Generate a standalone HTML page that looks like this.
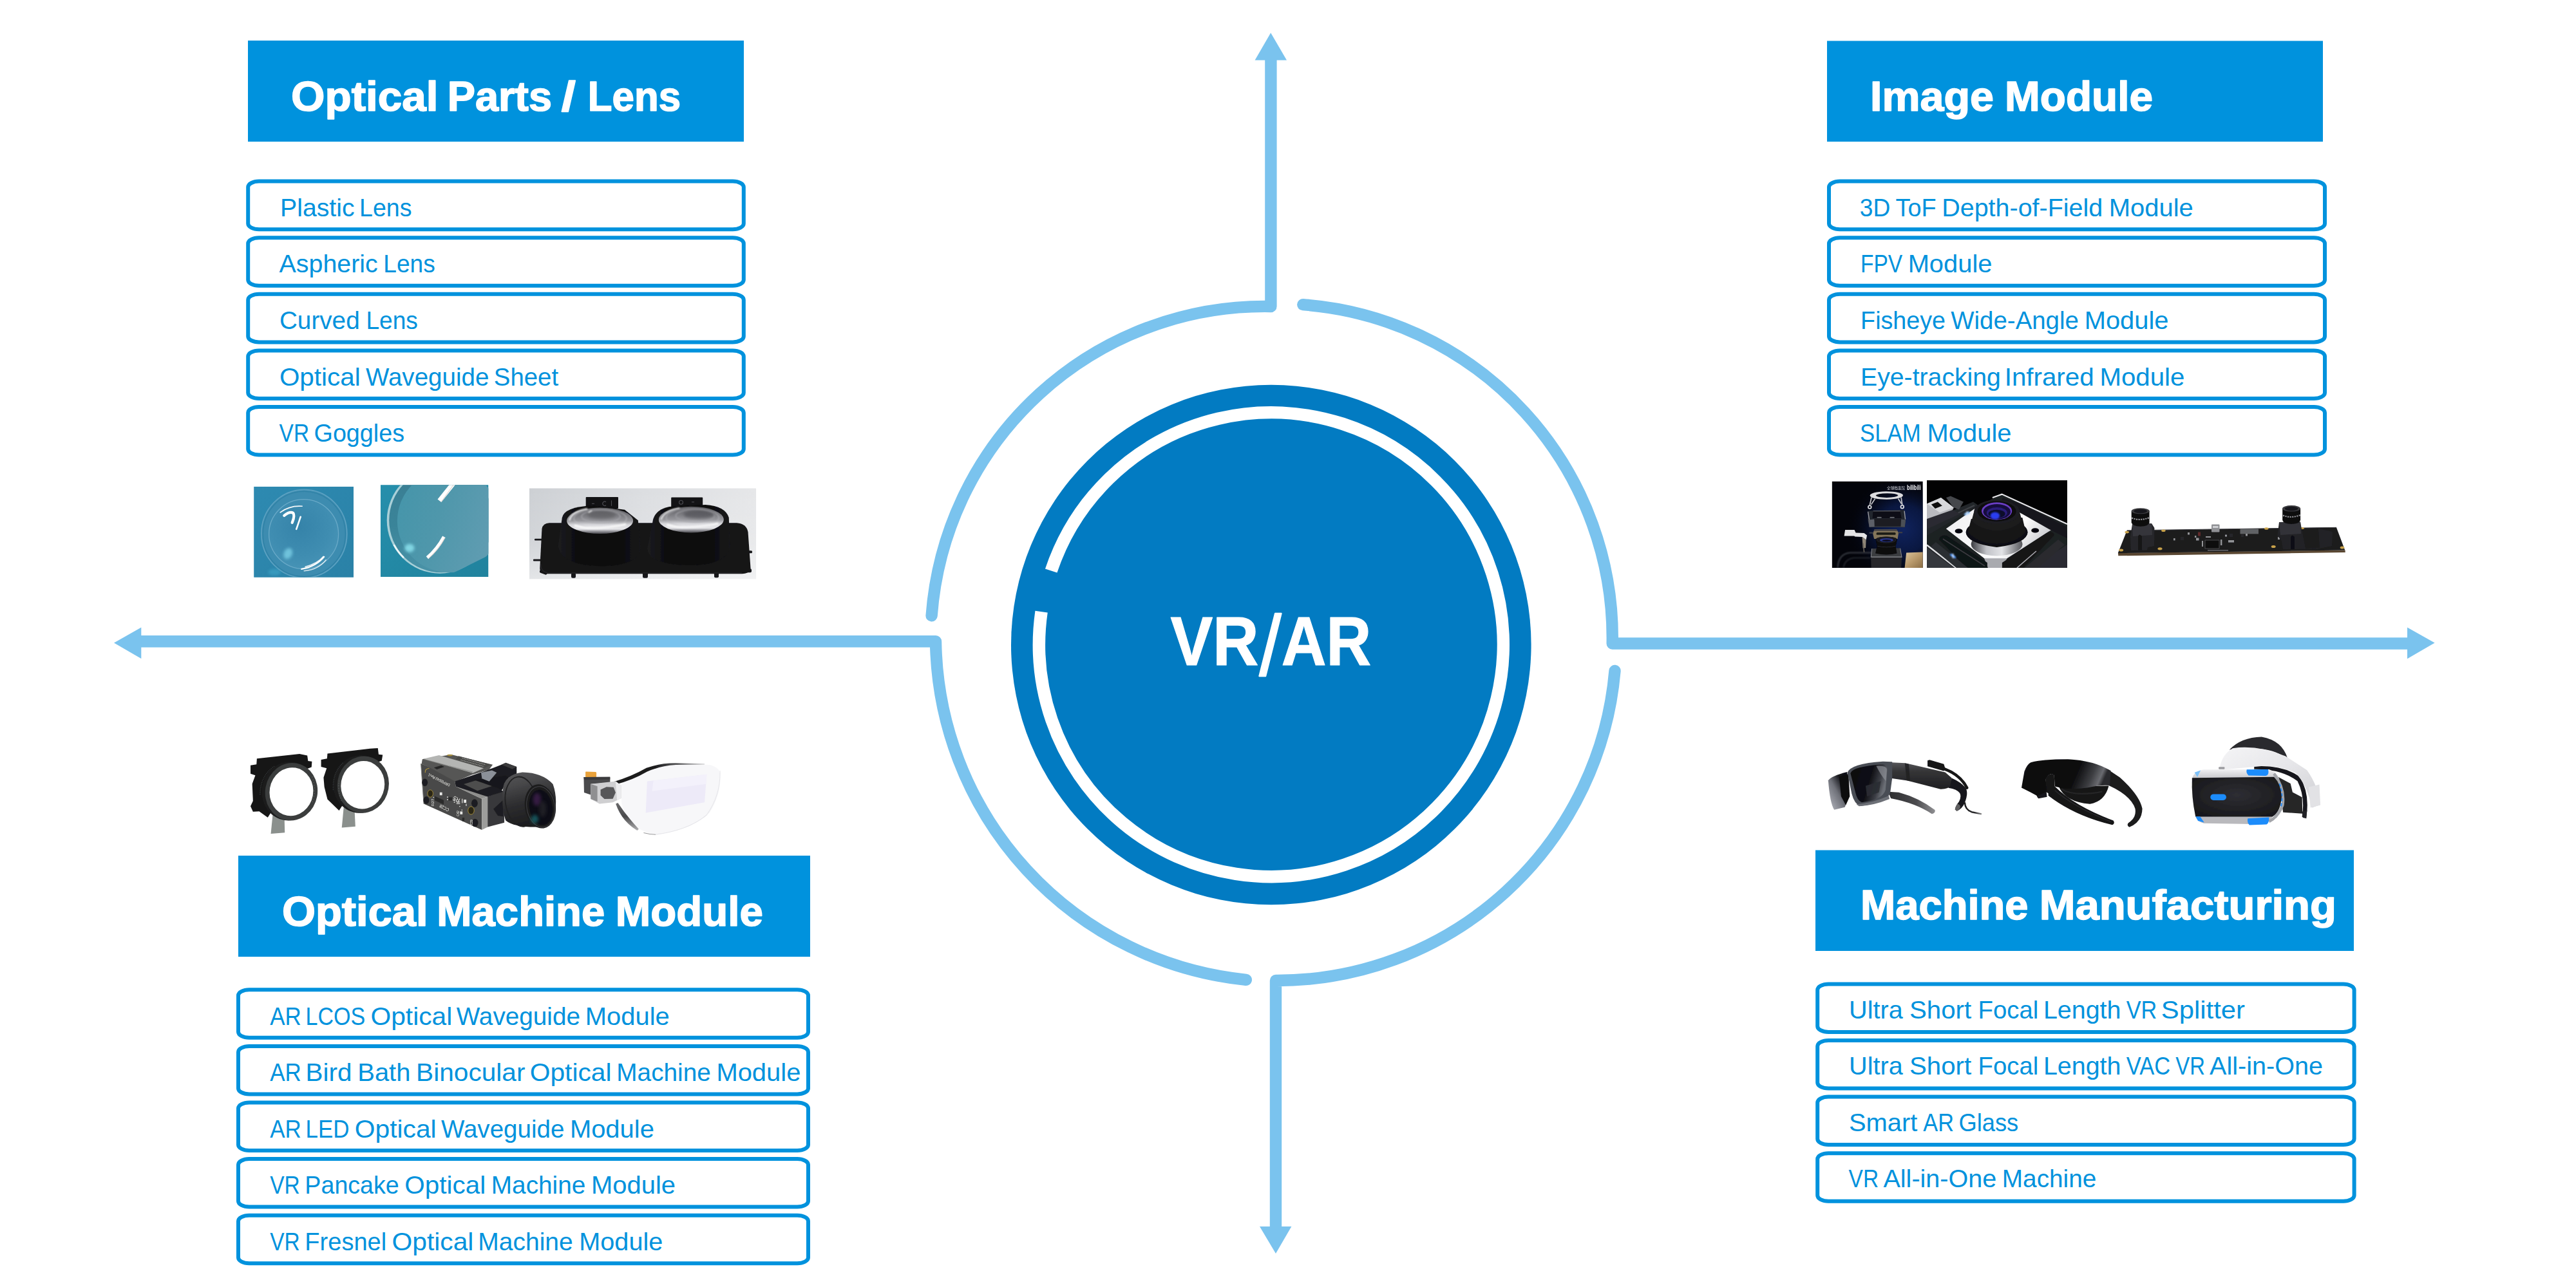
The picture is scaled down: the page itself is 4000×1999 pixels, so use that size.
<!DOCTYPE html>
<html lang="en">
<head>
<meta charset="utf-8">
<title>VR/AR</title>
<style>
html,body{margin:0;padding:0;background:#fff;}
body{width:4000px;height:1999px;overflow:hidden;}
svg{display:block;}
svg text{font-family:"Liberation Sans", "Noto Sans CJK SC", sans-serif;}
</style>
</head>
<body>
<svg width="4000" height="1999" viewBox="0 0 4000 1999">
<defs>
<filter id="b1" x="-20%" y="-20%" width="140%" height="140%"><feGaussianBlur stdDeviation="1"/></filter>
<filter id="b06" x="-20%" y="-20%" width="140%" height="140%"><feGaussianBlur stdDeviation="0.6"/></filter>
<filter id="b2" x="-30%" y="-30%" width="160%" height="160%"><feGaussianBlur stdDeviation="2"/></filter>
<filter id="b4" x="-40%" y="-40%" width="180%" height="180%"><feGaussianBlur stdDeviation="4"/></filter>
<filter id="b8" x="-50%" y="-50%" width="200%" height="200%"><feGaussianBlur stdDeviation="8"/></filter>
<filter id="b25" x="-50%" y="-50%" width="200%" height="200%"><feGaussianBlur stdDeviation="25"/></filter>
<linearGradient id="g01bg" x1="0" y1="0" x2="1" y2="1"><stop offset="0" stop-color="#2f8db5" stop-opacity=".6"/><stop offset="1" stop-color="#2a7fa4" stop-opacity=".6"/></linearGradient>
<radialGradient id="g01in" cx=".45" cy=".4" r=".7"><stop offset="0" stop-color="#3583a9"/><stop offset=".6" stop-color="#3f8db1"/><stop offset="1" stop-color="#4a96b8"/></radialGradient>
<linearGradient id="g02bg" x1="0" y1="0" x2="1" y2="1"><stop offset="0" stop-color="#2690ad" stop-opacity=".7"/><stop offset="1" stop-color="#1f7f99" stop-opacity=".7"/></linearGradient>
<linearGradient id="g02in" x1="0" y1="0" x2="1" y2=".3"><stop offset="0" stop-color="#4495aa"/><stop offset=".5" stop-color="#4f97ab"/><stop offset="1" stop-color="#5f9cb1"/></linearGradient>
<linearGradient id="g02cr" x1="0" y1="0" x2="0" y2="1"><stop offset="0" stop-color="#3a7d92"/><stop offset=".55" stop-color="#3a8499"/><stop offset="1" stop-color="#4a93a8"/></linearGradient>
<linearGradient id="g03bg" x1="0" y1="0" x2="1" y2="0"><stop offset="0" stop-color="#cdd0d4"/><stop offset=".5" stop-color="#dcdee1"/><stop offset="1" stop-color="#e6e7e9"/></linearGradient>
<linearGradient id="g03bg2" x1="0" y1="0" x2="0" y2="1"><stop offset="0" stop-color="#fff" stop-opacity="0"/><stop offset=".6" stop-color="#fff" stop-opacity=".12"/><stop offset="1" stop-color="#fff" stop-opacity=".45"/></linearGradient>
<linearGradient id="g03cyl" x1="0" y1="0" x2="1" y2="0"><stop offset="0" stop-color="#1c1c20"/><stop offset=".25" stop-color="#0c0c0e"/><stop offset=".7" stop-color="#0a0a0c"/><stop offset="1" stop-color="#17171a"/></linearGradient>
<radialGradient id="g03lens" cx=".5" cy=".45" r=".6"><stop offset="0" stop-color="#7a7a80"/><stop offset=".55" stop-color="#9a9aa0"/><stop offset=".85" stop-color="#d6d6da"/><stop offset="1" stop-color="#8c8c92"/></radialGradient>
<radialGradient id="g04glow" cx=".78" cy=".55" r=".62"><stop offset="0" stop-color="#10235e"/><stop offset=".45" stop-color="#0a1843" stop-opacity=".95"/><stop offset="1" stop-color="#03040a" stop-opacity="0"/></radialGradient>
<linearGradient id="g04tan" x1="0" y1="0" x2="1" y2="1"><stop offset="0" stop-color="#d9c39c"/><stop offset=".5" stop-color="#b99a6c"/><stop offset="1" stop-color="#8a6d45"/></linearGradient>
<linearGradient id="g05plate" x1="0" y1="0" x2="1" y2=".4"><stop offset="0" stop-color="#c9cace"/><stop offset=".2" stop-color="#f2f2f4"/><stop offset=".75" stop-color="#fdfdfd"/><stop offset="1" stop-color="#d0d1d5"/></linearGradient>
<linearGradient id="g05cone" x1="0" y1="0" x2="1" y2="0"><stop offset="0" stop-color="#3a3b40"/><stop offset=".3" stop-color="#c2c3c8"/><stop offset=".6" stop-color="#e2e3e6"/><stop offset="1" stop-color="#55565b"/></linearGradient>
<linearGradient id="g08barrel" x1="0" y1="0" x2=".25" y2="1"><stop offset="0" stop-color="#58585a"/><stop offset=".25" stop-color="#4a4a4c"/><stop offset=".6" stop-color="#2e2e30"/><stop offset="1" stop-color="#1d1d1f"/></linearGradient>
<linearGradient id="g09top" x1="0" y1="0" x2="1" y2="0"><stop offset="0" stop-color="#1c1c1e"/><stop offset=".45" stop-color="#1c1c1e"/><stop offset=".7" stop-color="#58585a"/><stop offset="1" stop-color="#d0d0d2"/></linearGradient>
<linearGradient id="g09low" x1="0" y1="0" x2="0" y2="1"><stop offset="0" stop-color="#6a6a6c"/><stop offset=".5" stop-color="#4a4a4c"/><stop offset="1" stop-color="#b0b0b2"/></linearGradient>
<linearGradient id="g10arm" x1="0" y1="0" x2="0" y2="1"><stop offset="0" stop-color="#57575a"/><stop offset=".35" stop-color="#343436"/><stop offset="1" stop-color="#1f1f21"/></linearGradient>
<linearGradient id="g10arm2" x1="0" y1="0" x2="1" y2="0"><stop offset="0" stop-color="#2c2c2e"/><stop offset=".6" stop-color="#4c4c4f"/><stop offset="1" stop-color="#909093"/></linearGradient>
<linearGradient id="g10lensL" x1="0" y1="1" x2="1" y2="0"><stop offset="0" stop-color="#b9bbc3"/><stop offset=".45" stop-color="#6e7078"/><stop offset=".7" stop-color="#15151a"/><stop offset="1" stop-color="#0c0c10"/></linearGradient>
<linearGradient id="g10lensR" x1="0" y1="0" x2="1" y2=".3"><stop offset="0" stop-color="#0a0a0d"/><stop offset=".6" stop-color="#111116"/><stop offset=".85" stop-color="#3c3e45"/><stop offset="1" stop-color="#6b6e75"/></linearGradient>
<linearGradient id="g11visor" x1="0" y1="0" x2="1" y2=".15"><stop offset="0" stop-color="#2a2a2d"/><stop offset=".12" stop-color="#0d0d0f"/><stop offset=".65" stop-color="#08080a"/><stop offset=".85" stop-color="#3d3e42"/><stop offset=".95" stop-color="#6a6b70"/><stop offset="1" stop-color="#2a2a2d"/></linearGradient>
<linearGradient id="g12band" x1="0" y1="0" x2="1" y2="1"><stop offset="0" stop-color="#f4f4f6"/><stop offset=".5" stop-color="#e6e6e9"/><stop offset="1" stop-color="#cfcfd3"/></linearGradient>
<linearGradient id="g12top" x1="0" y1="0" x2="0" y2="1"><stop offset="0" stop-color="#f0f0f2"/><stop offset="1" stop-color="#c4c4c8"/></linearGradient>
<radialGradient id="g12front" cx=".5" cy=".45" r=".6"><stop offset="0" stop-color="#2e2e33"/><stop offset="1" stop-color="#19191c"/></radialGradient>
<linearGradient id="g10tail" x1="0" y1="0" x2="1" y2="0"><stop offset="0" stop-color="#1c1c1e"/><stop offset=".6" stop-color="#2c2c2e"/><stop offset="1" stop-color="#8a8a8c"/></linearGradient>
<linearGradient id="g03lensV" x1="0" y1="0" x2="0" y2="1"><stop offset="0" stop-color="#4c4c50"/><stop offset=".2" stop-color="#6e6e73"/><stop offset=".5" stop-color="#97979c"/><stop offset=".66" stop-color="#d9d9dd"/><stop offset=".82" stop-color="#e6e6e9"/><stop offset=".92" stop-color="#8a8a90"/><stop offset="1" stop-color="#4a4a4f"/></linearGradient>

</defs>
<path d="M1973.4 92 L1973.4 476.0 A519 519 0 0 0 1446.6 956.3" fill="none" stroke="#7AC3EE" stroke-width="18.4" stroke-linejoin="round" stroke-linecap="round"/>
<path d="M3739 999.5 L2503.7 999.5 A519 519 0 0 0 2023.3 473.2" fill="none" stroke="#7AC3EE" stroke-width="18.4" stroke-linejoin="round" stroke-linecap="round"/>
<path d="M1981 1906 L1981 1523 A526.5 526.5 0 0 0 2507.5 1042" fill="none" stroke="#7AC3EE" stroke-width="18.4" stroke-linejoin="round" stroke-linecap="round"/>
<path d="M218 996.2 L1453 996.2 A536 536 0 0 0 1934.8 1521.8" fill="none" stroke="#7AC3EE" stroke-width="18.4" stroke-linejoin="round" stroke-linecap="round"/>
<path d="M1973.2 51 L1998 93.5 L1948.6 93.5 Z" fill="#7AC3EE"/>
<path d="M1981 1947 L1956 1905 L2005.4 1905 Z" fill="#7AC3EE"/>
<path d="M177 998.6 L219.3 974.4 L219.3 1023 Z" fill="#7AC3EE"/>
<path d="M3780.6 998.6 L3738 974.4 L3738 1023.2 Z" fill="#7AC3EE"/>
<circle cx="1973.8" cy="1001.5" r="403.8" fill="#027BC2"/>
<path d="M1632.2 886.5 A360.4 360.4 0 1 1 1617.1 950.1" fill="none" stroke="#fff" stroke-width="19.5"/>
<text font-size="108" font-weight="bold" fill="#fff" stroke="#fff" stroke-width="1.2" stroke-linejoin="round"><tspan x="1817.5" y="1033" textLength="137" lengthAdjust="spacingAndGlyphs">VR</tspan><tspan x="1955.6" y="1048.5" font-size="132" font-weight="normal" stroke-width="2.4" textLength="34" lengthAdjust="spacingAndGlyphs">/</tspan><tspan x="1989.7" y="1033" textLength="139.5" lengthAdjust="spacingAndGlyphs">AR</tspan></text>
<rect x="385" y="63" width="770" height="157" fill="#0092DD"/>
<rect x="2837" y="63.5" width="770" height="156.5" fill="#0092DD"/>
<rect x="370" y="1329" width="888" height="157" fill="#0092DD"/>
<rect x="2819" y="1320.5" width="836" height="156.5" fill="#0092DD"/>
<text y="172" font-size="64.5" font-weight="bold" fill="#fff" stroke="#fff" stroke-width="1.6" stroke-linejoin="round"><tspan x="452.0" textLength="228.55" lengthAdjust="spacingAndGlyphs">Optical</tspan> <tspan x="694.68" textLength="162.32" lengthAdjust="spacingAndGlyphs">Parts</tspan> <tspan x="871.87" textLength="22.15" lengthAdjust="spacingAndGlyphs">/</tspan> <tspan x="912.86" textLength="144.24" lengthAdjust="spacingAndGlyphs">Lens</tspan></text>
<text y="171.5" font-size="64.5" font-weight="bold" fill="#fff" stroke="#fff" stroke-width="1.6" stroke-linejoin="round"><tspan x="2904.1" textLength="191.88" lengthAdjust="spacingAndGlyphs">Image</tspan> <tspan x="3113.04" textLength="229.96" lengthAdjust="spacingAndGlyphs">Module</tspan></text>
<text y="1437.5" font-size="64.5" font-weight="bold" fill="#fff" stroke="#fff" stroke-width="1.6" stroke-linejoin="round"><tspan x="437.9" textLength="226.69" lengthAdjust="spacingAndGlyphs">Optical</tspan> <tspan x="678.3" textLength="260.87" lengthAdjust="spacingAndGlyphs">Machine</tspan> <tspan x="955.69" textLength="229.11" lengthAdjust="spacingAndGlyphs">Module</tspan></text>
<text y="1427.5" font-size="64.5" font-weight="bold" fill="#fff" stroke="#fff" stroke-width="1.6" stroke-linejoin="round"><tspan x="2889.0" textLength="260.59" lengthAdjust="spacingAndGlyphs">Machine</tspan> <tspan x="3166.65" textLength="461.25" lengthAdjust="spacingAndGlyphs">Manufacturing</tspan></text>
<rect x="385.20" y="281.60" width="769.60" height="74.60" rx="17.0" ry="9.0" fill="#fff" stroke="#0092DD" stroke-width="6"/>
<text y="335.8" font-size="39.5" font-weight="normal" fill="#0092DD"><tspan x="435.01" textLength="115.53" lengthAdjust="spacingAndGlyphs">Plastic</tspan> <tspan x="558.08" textLength="81.43" lengthAdjust="spacingAndGlyphs">Lens</tspan></text>
<rect x="385.20" y="369.20" width="769.60" height="74.60" rx="17.0" ry="9.0" fill="#fff" stroke="#0092DD" stroke-width="6"/>
<text y="423.40000000000003" font-size="39.5" font-weight="normal" fill="#0092DD"><tspan x="433.6" textLength="153.15" lengthAdjust="spacingAndGlyphs">Aspheric</tspan> <tspan x="595.29" textLength="80.43" lengthAdjust="spacingAndGlyphs">Lens</tspan></text>
<rect x="385.20" y="456.80" width="769.60" height="74.60" rx="17.0" ry="9.0" fill="#fff" stroke="#0092DD" stroke-width="6"/>
<text y="511.0" font-size="39.5" font-weight="normal" fill="#0092DD"><tspan x="433.91" textLength="124.76" lengthAdjust="spacingAndGlyphs">Curved</tspan> <tspan x="568.41" textLength="80.43" lengthAdjust="spacingAndGlyphs">Lens</tspan></text>
<rect x="385.20" y="544.40" width="769.60" height="74.60" rx="17.0" ry="9.0" fill="#fff" stroke="#0092DD" stroke-width="6"/>
<text y="598.6" font-size="39.5" font-weight="normal" fill="#0092DD"><tspan x="433.91" textLength="125.86" lengthAdjust="spacingAndGlyphs">Optical</tspan> <tspan x="568.0" textLength="191.37" lengthAdjust="spacingAndGlyphs">Waveguide</tspan> <tspan x="766.8" textLength="100.29" lengthAdjust="spacingAndGlyphs">Sheet</tspan></text>
<rect x="385.20" y="632.00" width="769.60" height="74.60" rx="17.0" ry="9.0" fill="#fff" stroke="#0092DD" stroke-width="6"/>
<text y="686.2" font-size="39.5" font-weight="normal" fill="#0092DD"><tspan x="433.6" textLength="46.53" lengthAdjust="spacingAndGlyphs">VR</tspan> <tspan x="487.56" textLength="140.51" lengthAdjust="spacingAndGlyphs">Goggles</tspan></text>
<rect x="2840.00" y="281.60" width="770.00" height="74.60" rx="17.0" ry="9.0" fill="#fff" stroke="#0092DD" stroke-width="6"/>
<text y="335.8" font-size="39.5" font-weight="normal" fill="#0092DD"><tspan x="2887.8" textLength="47.43" lengthAdjust="spacingAndGlyphs">3D</tspan> <tspan x="2943.57" textLength="63.08" lengthAdjust="spacingAndGlyphs">ToF</tspan> <tspan x="3015.29" textLength="249.83" lengthAdjust="spacingAndGlyphs">Depth-of-Field</tspan> <tspan x="3274.87" textLength="130.98" lengthAdjust="spacingAndGlyphs">Module</tspan></text>
<rect x="2840.00" y="369.20" width="770.00" height="74.60" rx="17.0" ry="9.0" fill="#fff" stroke="#0092DD" stroke-width="6"/>
<text y="423.40000000000003" font-size="39.5" font-weight="normal" fill="#0092DD"><tspan x="2889.11" textLength="65.09" lengthAdjust="spacingAndGlyphs">FPV</tspan> <tspan x="2962.63" textLength="130.88" lengthAdjust="spacingAndGlyphs">Module</tspan></text>
<rect x="2840.00" y="456.80" width="770.00" height="74.60" rx="17.0" ry="9.0" fill="#fff" stroke="#0092DD" stroke-width="6"/>
<text y="511.0" font-size="39.5" font-weight="normal" fill="#0092DD"><tspan x="2889.11" textLength="131.98" lengthAdjust="spacingAndGlyphs">Fisheye</tspan> <tspan x="3029.32" textLength="198.59" lengthAdjust="spacingAndGlyphs">Wide-Angle</tspan> <tspan x="3236.65" textLength="130.88" lengthAdjust="spacingAndGlyphs">Module</tspan></text>
<rect x="2840.00" y="544.40" width="770.00" height="74.60" rx="17.0" ry="9.0" fill="#fff" stroke="#0092DD" stroke-width="6"/>
<text y="598.6" font-size="39.5" font-weight="normal" fill="#0092DD"><tspan x="2889.11" textLength="217.74" lengthAdjust="spacingAndGlyphs">Eye-tracking</tspan> <tspan x="3112.68" textLength="139.0" lengthAdjust="spacingAndGlyphs">Infrared</tspan> <tspan x="3260.43" textLength="131.88" lengthAdjust="spacingAndGlyphs">Module</tspan></text>
<rect x="2840.00" y="632.00" width="770.00" height="74.60" rx="17.0" ry="9.0" fill="#fff" stroke="#0092DD" stroke-width="6"/>
<text y="686.2" font-size="39.5" font-weight="normal" fill="#0092DD"><tspan x="2888.01" textLength="94.77" lengthAdjust="spacingAndGlyphs">SLAM</tspan> <tspan x="2992.62" textLength="130.88" lengthAdjust="spacingAndGlyphs">Module</tspan></text>
<rect x="370.00" y="1537.30" width="885.00" height="74.50" rx="17.0" ry="9.0" fill="#fff" stroke="#0092DD" stroke-width="6"/>
<text y="1591.5" font-size="39.5" font-weight="normal" fill="#0092DD"><tspan x="419.2" textLength="48.54" lengthAdjust="spacingAndGlyphs">AR</tspan> <tspan x="474.47" textLength="92.76" lengthAdjust="spacingAndGlyphs">LCOS</tspan> <tspan x="575.47" textLength="126.87" lengthAdjust="spacingAndGlyphs">Optical</tspan> <tspan x="708.77" textLength="192.27" lengthAdjust="spacingAndGlyphs">Waveguide</tspan> <tspan x="908.77" textLength="130.98" lengthAdjust="spacingAndGlyphs">Module</tspan></text>
<rect x="370.00" y="1624.90" width="885.00" height="74.50" rx="17.0" ry="9.0" fill="#fff" stroke="#0092DD" stroke-width="6"/>
<text y="1679.1" font-size="39.5" font-weight="normal" fill="#0092DD"><tspan x="419.2" textLength="48.54" lengthAdjust="spacingAndGlyphs">AR</tspan> <tspan x="474.47" textLength="71.9" lengthAdjust="spacingAndGlyphs">Bird</tspan> <tspan x="555.22" textLength="82.23" lengthAdjust="spacingAndGlyphs">Bath</tspan> <tspan x="646.09" textLength="169.4" lengthAdjust="spacingAndGlyphs">Binocular</tspan> <tspan x="822.71" textLength="126.87" lengthAdjust="spacingAndGlyphs">Optical</tspan> <tspan x="957.32" textLength="146.53" lengthAdjust="spacingAndGlyphs">Machine</tspan> <tspan x="1112.38" textLength="130.98" lengthAdjust="spacingAndGlyphs">Module</tspan></text>
<rect x="370.00" y="1712.50" width="885.00" height="74.50" rx="17.0" ry="9.0" fill="#fff" stroke="#0092DD" stroke-width="6"/>
<text y="1766.7" font-size="39.5" font-weight="normal" fill="#0092DD"><tspan x="419.2" textLength="48.54" lengthAdjust="spacingAndGlyphs">AR</tspan> <tspan x="474.47" textLength="67.89" lengthAdjust="spacingAndGlyphs">LED</tspan> <tspan x="550.8" textLength="126.87" lengthAdjust="spacingAndGlyphs">Optical</tspan> <tspan x="685.0" textLength="191.37" lengthAdjust="spacingAndGlyphs">Waveguide</tspan> <tspan x="884.9" textLength="130.98" lengthAdjust="spacingAndGlyphs">Module</tspan></text>
<rect x="370.00" y="1800.10" width="885.00" height="74.50" rx="17.0" ry="9.0" fill="#fff" stroke="#0092DD" stroke-width="6"/>
<text y="1854.3" font-size="39.5" font-weight="normal" fill="#0092DD"><tspan x="419.2" textLength="46.53" lengthAdjust="spacingAndGlyphs">VR</tspan> <tspan x="473.37" textLength="146.42" lengthAdjust="spacingAndGlyphs">Pancake</tspan> <tspan x="628.33" textLength="125.86" lengthAdjust="spacingAndGlyphs">Optical</tspan> <tspan x="762.84" textLength="146.53" lengthAdjust="spacingAndGlyphs">Machine</tspan> <tspan x="918.0" textLength="130.98" lengthAdjust="spacingAndGlyphs">Module</tspan></text>
<rect x="370.00" y="1887.70" width="885.00" height="74.50" rx="17.0" ry="9.0" fill="#fff" stroke="#0092DD" stroke-width="6"/>
<text y="1941.8999999999999" font-size="39.5" font-weight="normal" fill="#0092DD"><tspan x="419.2" textLength="46.53" lengthAdjust="spacingAndGlyphs">VR</tspan> <tspan x="473.37" textLength="126.76" lengthAdjust="spacingAndGlyphs">Fresnel</tspan> <tspan x="608.57" textLength="126.87" lengthAdjust="spacingAndGlyphs">Optical</tspan> <tspan x="742.27" textLength="147.43" lengthAdjust="spacingAndGlyphs">Machine</tspan> <tspan x="899.34" textLength="129.97" lengthAdjust="spacingAndGlyphs">Module</tspan></text>
<rect x="2822.20" y="1528.40" width="833.40" height="74.50" rx="17.0" ry="9.0" fill="#fff" stroke="#0092DD" stroke-width="6"/>
<text y="1581.6000000000001" font-size="39.5" font-weight="normal" fill="#0092DD"><tspan x="2871.01" textLength="83.74" lengthAdjust="spacingAndGlyphs">Ultra</tspan> <tspan x="2964.99" textLength="96.18" lengthAdjust="spacingAndGlyphs">Short</tspan> <tspan x="3071.61" textLength="93.66" lengthAdjust="spacingAndGlyphs">Focal</tspan> <tspan x="3172.91" textLength="120.55" lengthAdjust="spacingAndGlyphs">Length</tspan> <tspan x="3301.79" textLength="47.54" lengthAdjust="spacingAndGlyphs">VR</tspan> <tspan x="3355.86" textLength="130.18" lengthAdjust="spacingAndGlyphs">Splitter</tspan></text>
<rect x="2822.20" y="1616.00" width="833.40" height="74.50" rx="17.0" ry="9.0" fill="#fff" stroke="#0092DD" stroke-width="6"/>
<text y="1669.2" font-size="39.5" font-weight="normal" fill="#0092DD"><tspan x="2871.01" textLength="83.74" lengthAdjust="spacingAndGlyphs">Ultra</tspan> <tspan x="2964.99" textLength="96.18" lengthAdjust="spacingAndGlyphs">Short</tspan> <tspan x="3071.61" textLength="93.66" lengthAdjust="spacingAndGlyphs">Focal</tspan> <tspan x="3172.91" textLength="120.55" lengthAdjust="spacingAndGlyphs">Length</tspan> <tspan x="3301.79" textLength="68.3" lengthAdjust="spacingAndGlyphs">VAC</tspan> <tspan x="3378.32" textLength="45.63" lengthAdjust="spacingAndGlyphs">VR</tspan> <tspan x="3431.08" textLength="175.82" lengthAdjust="spacingAndGlyphs">All-in-One</tspan></text>
<rect x="2822.20" y="1703.60" width="833.40" height="74.50" rx="17.0" ry="9.0" fill="#fff" stroke="#0092DD" stroke-width="6"/>
<text y="1756.8000000000002" font-size="39.5" font-weight="normal" fill="#0092DD"><tspan x="2870.91" textLength="106.51" lengthAdjust="spacingAndGlyphs">Smart</tspan> <tspan x="2986.34" textLength="47.64" lengthAdjust="spacingAndGlyphs">AR</tspan> <tspan x="3041.42" textLength="92.87" lengthAdjust="spacingAndGlyphs">Glass</tspan></text>
<rect x="2822.20" y="1791.20" width="833.40" height="74.50" rx="17.0" ry="9.0" fill="#fff" stroke="#0092DD" stroke-width="6"/>
<text y="1844.4" font-size="39.5" font-weight="normal" fill="#0092DD"><tspan x="2870.6" textLength="46.53" lengthAdjust="spacingAndGlyphs">VR</tspan> <tspan x="2924.46" textLength="175.82" lengthAdjust="spacingAndGlyphs">All-in-One</tspan> <tspan x="3108.82" textLength="146.53" lengthAdjust="spacingAndGlyphs">Machine</tspan></text>
<!-- photo 1: plano-convex lens on teal cloth -->
<clipPath id="c01"><rect x="0" y="0" width="154.8" height="141"/></clipPath>
<g transform="translate(394.2,755.8)" clip-path="url(#c01)">
  <rect x="0" y="0" width="154.8" height="141" fill="#2b85ab"/>
  <rect x="0" y="0" width="154.8" height="141" fill="url(#g01bg)"/>
  <ellipse cx="78.1" cy="73.2" rx="66.5" ry="68.5" fill="#3d8cb0" stroke="#5da2c2" stroke-width="1.6"/>
  <ellipse cx="78.1" cy="73.6" rx="64" ry="66" fill="none" stroke="#2a7ea3" stroke-width="1.4" opacity=".7"/>
  <circle cx="77.4" cy="73.8" r="54" fill="url(#g01in)" stroke="#6aaac8" stroke-width="1.3"/>
  <g filter="url(#b06)" fill="none" stroke="#fff" stroke-linecap="round">
    <path d="M41 40 Q56 29 75 30.5" stroke-width="1.6" opacity=".95"/>
    <path d="M47 45 Q56 38 61 41 Q64 45 59.5 56" stroke-width="4.2"/>
    <path d="M72.5 47 L66 66" stroke-width="2.6"/>
    <path d="M74 128 Q97 124 109 109" stroke-width="2.2"/>
    <path d="M80 124.5 Q99 119.5 108 108.5" stroke-width="1.6" opacity=".9"/>
    <path d="M78 131 Q100 129 112 114" stroke-width="1.4" opacity=".8"/>
  </g>
  <ellipse cx="53" cy="104" rx="6.5" ry="9" fill="#7fd4ea" opacity=".75" filter="url(#b2)" transform="rotate(25 53 104)"/>
  <ellipse cx="32" cy="133" rx="10" ry="5" fill="#49b4d4" opacity=".45" filter="url(#b2)"/>
</g>

<!-- photo 2: thick lens close-up on teal cloth -->
<clipPath id="c02"><rect x="0" y="0" width="167.5" height="142.9"/></clipPath>
<clipPath id="c02b"><path d="M-5 -5 H175 V106 L112 137 L60 150 H-5 Z"/></clipPath>
<g transform="translate(590.9,753.2)" clip-path="url(#c02)">
  <rect x="0" y="0" width="167.5" height="142.9" fill="#248ba8"/>
  <rect x="0" y="0" width="167.5" height="142.9" fill="url(#g02bg)"/>
  <g clip-path="url(#c02b)">
    <circle cx="92.3" cy="55" r="82.5" fill="#a9d0d8"/>
    <circle cx="94.3" cy="55" r="81" fill="url(#g02cr)"/>
    <circle cx="106" cy="56" r="80" fill="url(#g02in)"/>
    <path d="M36 113 A81 81 0 0 1 20.8 93" fill="none" stroke="#f2fafb" stroke-width="2.6" filter="url(#b06)" opacity=".9"/>
  </g>
  <g filter="url(#b06)" fill="none" stroke-linecap="butt">
    <path d="M112.8 -2 L91.5 24.5" stroke="#fff" stroke-width="7.4"/>
    <path d="M114.5 -2 L94.5 26" stroke="#d8c8c0" stroke-width=".9"/>
    <path d="M98.5 80.5 Q88 100 72.5 113" stroke="#fff" stroke-width="5.2"/>
    <path d="M100 82 Q90 100 75 114" stroke="#d8c0b8" stroke-width=".8"/>
  </g>
  <ellipse cx="45" cy="98" rx="7.5" ry="6.5" fill="#8fe6f2" opacity=".8" filter="url(#b2)"/>
</g>

<!-- photo 3: black VR goggle lens holder on grey backdrop -->
<clipPath id="c03"><rect x="0" y="0" width="352.2" height="141.2"/></clipPath>
<g transform="translate(822,758.3)" clip-path="url(#c03)">
  <rect x="0" y="0" width="352.2" height="141.2" fill="url(#g03bg)"/>
  <rect x="0" y="0" width="352.2" height="141.2" fill="url(#g03bg2)"/>
  <!-- pegs -->
  <g fill="#17171a">
    <rect x="8" y="78.5" width="12" height="2.6" rx="1"/><rect x="6" y="110.3" width="13" height="3" rx="1"/>
    <rect x="16" y="128" width="12" height="5" rx="2" transform="rotate(20 22 130)"/>
    <rect x="65" y="132" width="7" height="7.5" rx="2"/><rect x="176" y="131" width="8" height="8.5" rx="2"/><rect x="287" y="131" width="7" height="8" rx="2"/>
    <rect x="333" y="125" width="12" height="6" rx="2"/><rect x="336" y="97" width="10" height="4" rx="1.5"/>
  </g>
  <!-- base plate -->
  <path d="M31 54 H322 Q337 55 339.5 68 L343.5 124 Q343 132.5 330 133 H30 Q16 133 16.3 124 L19.5 63 Q21 54.5 31 54 Z" fill="#141417" filter="url(#b06)"/>
  <path d="M18 118 Q17 130 30 131.5 H330" fill="none" stroke="#2b2b30" stroke-width="1.2" opacity=".8"/>
  <!-- tabs behind -->
  <rect x="87.7" y="13.7" width="50.3" height="18" rx="1" fill="#121214"/>
  <rect x="220.2" y="14.3" width="49" height="16" rx="1" fill="#131315"/>
  <g fill="none" stroke="#5a5a60" stroke-width="1.1" opacity=".8"><path d="M119 21.5 a3.2 3.2 0 1 0 0 5"/><path d="M127.5 19 V27.5"/><circle cx="235.5" cy="22" r="3"/><path d="M97 24 h4"/><path d="M252 21.5 h4"/></g>
  <!-- left barrel -->
  <path d="M50.8 46 Q54 29 98 27 L148 33.5 L168.8 50 L172.5 92 Q171 121 110 121 Q50 120 44.8 90 Z" fill="url(#g03cyl)" filter="url(#b06)"/>
  <ellipse cx="109.6" cy="50.4" rx="51.5" ry="20.3" fill="url(#g03lensV)"/>
  <g fill="none" filter="url(#b1)">
    <ellipse cx="111" cy="44" rx="30" ry="9.5" stroke="#a9a9ae" stroke-width="1.6" opacity=".8"/>
    <ellipse cx="110" cy="47" rx="41" ry="14.5" stroke="#bdbdc2" stroke-width="1.4" opacity=".7"/>
    <path d="M62 50 Q66 36 90 32" stroke="#fafafa" stroke-width="2.6" opacity=".85"/>
    <path d="M70 58 Q100 66 150 56" stroke="#fff" stroke-width="3.4" opacity=".8"/>
    <path d="M92 38 l5 -3" stroke="#fff" stroke-width="1.6"/>
  </g>
  <ellipse cx="112" cy="42" rx="22" ry="6" fill="#58585c" opacity=".6" filter="url(#b2)"/>
  <!-- right barrel -->
  <g transform="translate(141.3,-1.2)">
    <path d="M51 49 Q56 34 76 30 L132 27 Q163 29 168.5 47 L170 92 Q166 121 106 121 Q44 120 42 95 Z" fill="url(#g03cyl)" filter="url(#b06)"/>
    <ellipse cx="110" cy="50" rx="50.5" ry="20.3" fill="url(#g03lensV)"/>
    <g fill="none" filter="url(#b1)">
      <ellipse cx="116" cy="44" rx="30" ry="9.5" stroke="#a4a4a9" stroke-width="1.6" opacity=".8"/>
      <ellipse cx="112" cy="47" rx="41" ry="14.5" stroke="#b8b8bd" stroke-width="1.4" opacity=".7"/>
      <path d="M63 50 Q68 36 92 32" stroke="#f6f6f6" stroke-width="2.4" opacity=".8"/>
      <path d="M72 58 Q102 66 152 56" stroke="#fff" stroke-width="3.2" opacity=".75"/>
    </g>
    <ellipse cx="122" cy="42" rx="24" ry="6.5" fill="#4e4e52" opacity=".65" filter="url(#b2)"/>
  </g>
</g>

<!-- photo 4: exploded camera module on dark blue -->
<clipPath id="c04"><rect x="0" y="0" width="141.2" height="134.5"/></clipPath>
<g transform="translate(2844.6,747.6)" clip-path="url(#c04)">
  <rect x="0" y="0" width="141.2" height="134.5" fill="#03040a"/>
  <rect x="0" y="0" width="141.2" height="134.5" fill="url(#g04glow)"/>
  <text x="85.5" y="12.6" font-size="5.6" fill="#d9dbe2" textLength="28" lengthAdjust="spacingAndGlyphs" filter="url(#b06)">全球档案馆</text>
  <text x="116.5" y="13.4" font-size="10.5" font-weight="bold" fill="#f2f2f5" textLength="21.5" lengthAdjust="spacingAndGlyphs" filter="url(#b06)">bilibili</text>
  <!-- bottom-left cables -->
  <g fill="none" stroke="#4a4d55" stroke-width="2" filter="url(#b1)" opacity=".8">
    <path d="M9 134 Q10 113 28 111 H62"/><path d="M18 134 Q20 121 34 119 H60" stroke="#2c2e35"/>
  </g>
  <!-- tan block -->
  <path d="M115.5 110.8 L141.2 110 V134.5 H113 Z" fill="url(#g04tan)" filter="url(#b06)"/>
  <!-- top silver ring + legs -->
  <g filter="url(#b06)">
    <path d="M59 22 Q60 16.5 84 15.6 Q108 16 110.5 21.5 Q110 27.5 85 28.2 Q60 28 59 22 Z M68 22 Q70 25.2 85 25.3 Q101 25 103 21.6 Q100 18.8 86 18.7 Q70 19 68 22 Z" fill="#dcdcde" fill-rule="evenodd"/>
    <g fill="none" stroke="#c9c9cc" stroke-width="1.7"><path d="M61.5 25 L58.7 37"/><path d="M67 27 L61 36"/><path d="M107.5 25 L109.2 36.5"/><path d="M103 27 L108 35"/></g>
    <circle cx="58.7" cy="40" r="2.4" fill="none" stroke="#e6e6e8" stroke-width="1.6"/>
    <circle cx="109.2" cy="39.6" r="2.4" fill="none" stroke="#e6e6e8" stroke-width="1.6"/>
  </g>
  <!-- frame -->
  <g filter="url(#b06)">
    <path d="M57 46 L112 44.5 L114.7 59 L113 71 H58 L55.6 60 Z" fill="#23262e"/>
    <path d="M64 46.5 H106 L108 57.5 H63 Z" fill="#090b12"/>
    <path d="M56.5 60 H114 L113 71.5 H58 Z" fill="#33363d"/>
    <path d="M66 58.5 H107.5 L107 70 H66.5 Z" fill="#1b1d24"/>
    <path d="M56 47 L58 60 M112.5 46 L114 59" stroke="#9a9ca3" stroke-width="1.4" fill="none"/>
    <path d="M64 46.2 H106" stroke="#6c6f77" stroke-width="1"/>
    <path d="M56.5 60 L58 71 L66 70.5 L65.5 59 Z" fill="#5d6068"/>
    <path d="M107.5 59 L107 70.5 L113.2 71 L114.5 60 Z" fill="#4c4f57"/>
    <rect x="70" y="55.3" width="7" height="1.6" fill="#767980"/><rect x="90" y="55.3" width="7" height="1.6" fill="#767980"/>
  </g>
  <!-- tan actuator -->
  <g filter="url(#b06)">
    <path d="M66 75 H100.5 L103.5 80 L102 89.5 H65.5 L63.5 81 Z" fill="#84765a"/>
    <path d="M66 75 H100.5 L102 77.5 H65 Z" fill="#4d4a46"/>
    <rect x="69" y="79.5" width="30" height="3.6" rx="1.5" fill="#1c1a18"/>
    <path d="M58 80 H64 M103 79.5 H109.5" stroke="#3a3d46" stroke-width="2.2"/>
  </g>
  <!-- white L bracket -->
  <g filter="url(#b06)">
    <path d="M20.5 75.5 H35 L37 80 L50 80.5 L54.5 84 L53 91 L47 86.5 L36 86 L34.5 84.8 H19 Z" fill="#e4e4e6"/>
    <path d="M47 86.5 L53 91 L52.5 103.5 L48 104 Z" fill="#8d8577"/>
    <path d="M48.5 96 L50 110" stroke="#6e675c" stroke-width="1.4"/>
  </g>
  <!-- lens barrel -->
  <g filter="url(#b06)">
    <path d="M62 104.5 L106 104 L108.6 118 L107.5 134.5 H61 L60.5 118 Z" fill="#26272b"/>
    <path d="M62 104.5 L106 104 L108.6 118 L60.5 118 Z" fill="#3b3c41"/>
    <path d="M61 117.5 H108.5" stroke="#8e9096" stroke-width="1.1"/>
    <path d="M62 104.6 L60.6 118 M106 104 L108.5 118" stroke="#85878d" stroke-width="1"/>
    <path d="M68 91 Q68 86.3 84.6 86 Q101.2 86.3 101.3 91 L99 101 L101 112 Q85 116 67.5 112 L70 101 Z" fill="#08080b"/>
    <ellipse cx="84.6" cy="91" rx="15" ry="4.6" fill="#15161c" stroke="#2a2b33" stroke-width=".8"/>
    <ellipse cx="84.8" cy="91.3" rx="10.6" ry="2.9" fill="#2a3890"/>
    <ellipse cx="85" cy="92.1" rx="7" ry="1.6" fill="#0b0d25"/>
    <path d="M70.5 100.5 Q85 104 99 100.5" fill="none" stroke="#2c2d33" stroke-width="1"/>
  </g>
</g>

<!-- photo 5: camera lens close-up on metal plate -->
<clipPath id="c05"><rect x="0" y="0" width="218.1" height="136.1"/></clipPath>
<g transform="translate(2991.9,746)" clip-path="url(#c05)">
  <rect x="0" y="0" width="218.1" height="136.1" fill="#020203"/>
  <g filter="url(#b06)">
    <!-- outer frame faces -->
    <path d="M0 78 L116.6 21.7 L218.1 68 V136.1 H0 Z" fill="#1e2024"/>
    <path d="M102 27 L116.6 21.7 L218.1 68" fill="none" stroke="#e9e9ec" stroke-width="2"/>
    <path d="M0 104 L42 136.1 H0 Z" fill="#35373c"/>
    <path d="M0 100.5 L46 136.1" stroke="#dcdde0" stroke-width="2.6" fill="none"/>
    <path d="M218.1 100 L160 136.1 H218.1 Z" fill="#2a2c30"/>
    <!-- white mounting plate -->
    <path d="M29.9 75.3 L74.4 44 L116 33 L146.7 51.2 L196 75.3 L125 121 L88.9 121 Z" fill="url(#g05plate)"/>
    <path d="M88.9 120.6 L125 120.2 L118 136.1 H95 Z" fill="#a9aaaf"/>
    <path d="M89 120.4 H125" stroke="#f4f4f6" stroke-width="1.6"/>
    <!-- holes -->
    <ellipse cx="49.7" cy="78.9" rx="6" ry="3.7" fill="#060607"/>
    <ellipse cx="168.3" cy="77.9" rx="6" ry="3.7" fill="#060607"/>
    <!-- rails -->
    <path d="M0 64 L72 33.5 L80 39 L0 86 Z" fill="#24262a"/>
    <path d="M0 73 L74 39" stroke="#3d4045" stroke-width="2.2" fill="none"/>
    <path d="M118 27 L146 37 L216 72 L218 90 L190 76 L146 51 L116 34 Z" fill="#17181b"/>
    <path d="M19 92 Q21 84 31 86 L94 128 V136.1 H62 Z" fill="#111215"/>
    <path d="M14 96 L64 136.1 H46 L6 103 Z" fill="#2b2d31"/>
    <path d="M25 91 L90 133" stroke="#3a3c41" stroke-width="1.6" fill="none"/>
    <path d="M198 85 Q196 78 186 82 L117 128 V136.1 H150 Z" fill="#121316"/>
    <path d="M204 92 L152 136.1 H172 L214 100 Z" fill="#292b2f"/>
    <path d="M170 110 L140 136.1" stroke="#cfd0d4" stroke-width="1.6" fill="none" opacity=".8"/>
    <!-- left top box -->
    <path d="M0 36.5 L22 27 L42 42.5 L38 50 L0 66 Z" fill="#b9babf"/>
    <path d="M0 36.5 L22 27 L42 42.5 L20 50 Z" fill="#d7d8db"/>
    <path d="M7 37.5 L17 33.5 L24 39.5 L13 44 Z" fill="#0b0b0d"/>
    <path d="M30 27 L37 24.5 L57 33.5 L50 45.5 L41 42 Z" fill="#44464b"/>
    <path d="M0 60 L40 46 L52 52 L0 76 Z" fill="#2a2c30"/>
  </g>
  <!-- blue glints -->
  <g filter="url(#b1)"><ellipse cx="62.4" cy="51.5" rx="5" ry="2" fill="#8fc4ff" transform="rotate(-28 62.4 51.5)"/><ellipse cx="62.4" cy="51.5" rx="1" ry="3.6" fill="#d8ecff"/>
  <ellipse cx="40.7" cy="117.6" rx="5.5" ry="2" fill="#4f9dff" transform="rotate(35 40.7 117.6)"/><ellipse cx="40.7" cy="117.6" rx="1" ry="4" fill="#cfe6ff"/></g>
  <!-- lens barrel -->
  <g filter="url(#b06)">
    <ellipse cx="108.7" cy="99" rx="40" ry="18.5" fill="url(#g05cone)"/>
    <path d="M60.8 80 Q61 98 108.7 104 Q156.5 98 156.6 80 Z" fill="#0d0d0f"/>
    <ellipse cx="108.7" cy="80.5" rx="47.9" ry="21" fill="#111113"/>
    <path d="M69 60 L64 80 Q80 98 108.7 98.5 Q138 98 153.5 80 L148.5 58 Z" fill="#151517"/>
    <path d="M73 50 L69.5 63 Q85 78 108.7 78.5 Q133 78 148 63 L144.3 50 Z" fill="#1a1a1d"/>
    <ellipse cx="108.7" cy="49" rx="35.6" ry="18.8" fill="#1d1d20"/>
    <ellipse cx="108.7" cy="48.2" rx="30" ry="15.6" fill="#0a0a0c"/>
    <ellipse cx="108.7" cy="47.8" rx="23.6" ry="13.6" fill="#6a3ec4"/>
    <ellipse cx="108.9" cy="48.8" rx="21.3" ry="11.8" fill="#130f3c"/>
    <ellipse cx="108.9" cy="50.5" rx="16" ry="8.4" fill="#2b1d7a"/>
    <ellipse cx="108.7" cy="52" rx="13" ry="6.2" fill="#0d0b2c"/>
  </g>
  <ellipse cx="106" cy="55" rx="7.2" ry="5.6" fill="#2a3cf0" filter="url(#b1)"/>
</g>

<!-- photo 6: stereo camera PCB -->
<g filter="url(#b06)">
  <path d="M3289 859 L3641.5 854.5 L3641.8 858 L3289.3 863.3 Z" fill="#5a4630"/>
  <path d="M3302.7 823.9 L3628 819.3 L3641.2 854.6 L3288.7 859.2 Z" fill="#1b1b1e"/>
  <path d="M3302.7 823.9 L3628 819.3" stroke="#3a3a3e" stroke-width="1"/>
  <!-- gold pads -->
  <g fill="#c9a24a"><ellipse cx="3302.7" cy="826.6" rx="3.3" ry="1.8"/><ellipse cx="3359.4" cy="824.2" rx="3.3" ry="1.8"/><ellipse cx="3519.3" cy="821" rx="3.3" ry="1.8"/><ellipse cx="3575" cy="820.6" rx="3" ry="1.6"/>
  <ellipse cx="3293.6" cy="854.4" rx="3.5" ry="2"/><ellipse cx="3354" cy="852.3" rx="3.5" ry="2"/><ellipse cx="3530.2" cy="849" rx="3.5" ry="2"/><ellipse cx="3637" cy="850.6" rx="3.3" ry="2"/></g>
  <!-- components -->
  <rect x="3434" y="814.4" width="12.5" height="12" rx="1" fill="#8f9094"/><rect x="3436" y="817" width="8.5" height="3" fill="#d0d1d4"/>
  <rect x="3424" y="839" width="22" height="13" fill="#0c0c0e" stroke="#55565a" stroke-width=".8"/>
  <rect x="3478.5" y="821.5" width="28.5" height="7.8" fill="#6d6e72" opacity=".85"/>
  <g fill="#a9aaad" opacity=".85">
    <rect x="3397" y="827" width="3" height="3.5"/><rect x="3408" y="832" width="2.4" height="3"/><rect x="3413" y="826.5" width="4" height="6" fill="#6a2f2f"/>
    <rect x="3375" y="836" width="2.6" height="3.4"/><rect x="3386" y="834" width="5" height="5" fill="#2a2a2d"/>
    <rect x="3425" y="833" width="8" height="2"/><rect x="3455" y="830.5" width="3" height="3"/><rect x="3462" y="829" width="5" height="5" fill="#2a2a2d"/>
    <rect x="3480" y="830" width="4" height="4" fill="#2a2a2d"/><rect x="3487" y="829" width="3" height="3.5"/>
    <rect x="3460" y="839" width="9" height="3.5"/><rect x="3410" y="835.5" width="4.5" height="4"/><rect x="3448" y="838" width="2.4" height="9"/><rect x="3419" y="840" width="2" height="9"/>
    <rect x="3428" y="854" width="32" height="1.6" opacity=".6"/><rect x="3537" y="834" width="3" height="4"/>
  </g>
</g>
<!-- left camera -->
<g filter="url(#b06)">
  <path d="M3308 834 L3311 814 L3341 813 L3345.4 820 L3345 848 L3335 850 L3334 854.5 L3309 855 Z" fill="#27272b"/>
  <path d="M3311 814 L3341 813 L3342 831 L3312 833 Z" fill="#35353a"/>
  <path d="M3320 833 Q3322 828 3326 833 V854.5 H3320 Z" fill="#121214"/>
  <path d="M3309.7 793.7 V812 Q3312 817.5 3323.7 817.8 Q3336 817.5 3337.6 812 V793.7 Z" fill="#0f0f11"/>
  <path d="M3310 804.5 Q3323 809.5 3337.4 804" fill="none" stroke="#c8c8cc" stroke-width="2" stroke-dasharray="2.2 1.4" opacity=".8"/>
  <ellipse cx="3323.7" cy="793.7" rx="14" ry="4.5" fill="#3c3c40"/>
  <ellipse cx="3323.7" cy="794" rx="10.5" ry="3.2" fill="#17171a"/>
</g>
<!-- right camera -->
<g filter="url(#b06)">
  <path d="M3536.4 832 L3539 811 L3572 810.5 L3574 822 L3600 821 L3621.8 826 L3621 848 L3598 852.5 L3545 853 L3543 840 Z" fill="#232327"/>
  <path d="M3539 811 L3572 810.5 L3573 829 L3541 831 Z" fill="#323237"/>
  <path d="M3557 834 Q3559 829 3563 834 V853 H3557 Z" fill="#101012"/>
  <path d="M3574 822 L3600 821 L3602 851 L3580 852 Z" fill="#1a1a1d"/>
  <path d="M3544.2 789.8 V808 Q3546 813.8 3558.1 814 Q3570 813.8 3572.1 808 V789.8 Z" fill="#0f0f11"/>
  <path d="M3545 800.5 Q3558 805.5 3571.8 800" fill="none" stroke="#c8c8cc" stroke-width="2" stroke-dasharray="2.2 1.4" opacity=".75"/>
  <ellipse cx="3558.1" cy="789.8" rx="14" ry="4.8" fill="#3c3c40"/>
  <ellipse cx="3558.1" cy="790.1" rx="10.5" ry="3.4" fill="#17171a"/>
</g>

<!-- photo 7: two black lens-holder rings -->
<g filter="url(#b06)"><g transform="translate(376,1150) scale(0.12042)">
  <!-- left holder -->
  <path d="M395 950 L545 990 L550 1190 L370 1205 Z" fill="#8b908d"/>
  <path d="M190 235 L740 175 L840 195 L850 265 L900 272 L895 345 L700 420 L330 995 L220 915 L140 920 L108 850 L140 780 L130 560 L170 450 L108 430 L108 322 L185 310 Z" fill="#161617"/>
  <ellipse cx="600" cy="655" rx="345" ry="378" fill="#1d1e1f" transform="rotate(8 600 655)"/>
  <ellipse cx="635" cy="662" rx="337" ry="373" fill="#3a3d3c" transform="rotate(10 635 662)"/>
  <ellipse cx="635" cy="662" rx="281" ry="313" fill="#fff" transform="rotate(10 635 662)"/>
  <path d="M230 700 Q235 450 420 330" fill="none" stroke="#3b3e3d" stroke-width="14" stroke-dasharray="10 12" opacity=".8"/>
  <path d="M905 470 Q960 640 900 820" fill="none" stroke="#777a79" stroke-width="12" stroke-dasharray="6 30" opacity=".8"/>
  <!-- right holder -->
  <path d="M1310 860 L1450 900 L1460 1110 L1285 1125 Z" fill="#8b908d"/>
  <path d="M1100 170 L1650 105 L1750 100 L1760 180 L1812 186 L1800 262 L1620 330 L1250 905 L1100 760 L1060 600 L1050 480 L1090 360 L1018 340 L1018 250 L1095 235 Z" fill="#161617"/>
  <ellipse cx="1520" cy="565" rx="345" ry="372" fill="#1d1e1f" transform="rotate(8 1520 565)"/>
  <ellipse cx="1560" cy="570" rx="332" ry="367" fill="#3a3d3c" transform="rotate(10 1560 570)"/>
  <ellipse cx="1555" cy="575" rx="281" ry="311" fill="#fff" transform="rotate(10 1555 575)"/>
  <path d="M1175 640 Q1160 420 1300 290" fill="none" stroke="#3b3e3d" stroke-width="14" stroke-dasharray="10 12" opacity=".8"/>
  <path d="M1250 520 Q1230 680 1290 800" fill="none" stroke="#777a79" stroke-width="12" stroke-dasharray="6 26" opacity=".7"/>
</g></g>

<!-- photo 8: optical engine / camera module render -->
<g filter="url(#b06)"><g transform="translate(640,1155) scale(0.11268)">
  <!-- top pcb -->
  <path d="M140 215 L540 150 L1110 290 L1060 360 L820 430 L590 525 L250 335 L130 280 Z" fill="#565654"/>
  <path d="M150 210 L370 160 L985 340 L835 405 Z" fill="#b4b5b3"/>
  <path d="M175 222 L830 392" stroke="#6d6e6c" stroke-width="14" stroke-dasharray="8 10" fill="none"/>
  <path d="M640 170 L1090 290 L1000 335 L600 215 Z" fill="#4b4b49"/>
  <path d="M690 200 L1010 290 M670 225 L990 315" stroke="#c9c9c6" stroke-width="10" stroke-dasharray="14 8" fill="none" opacity=".7"/>
  <ellipse cx="520" cy="160" rx="38" ry="12" fill="#a58c3a"/>
  <path d="M300 330 L400 300 L445 320 L340 355 Z" fill="#262627"/>
  <!-- pcb side face -->
  <path d="M120 275 L250 330 L590 520 L600 590 L960 760 L960 1190 L160 830 Z" fill="#4a4a48"/>
  <path d="M120 275 L160 830" stroke="#777" stroke-width="8"/>
  <g fill="#1f1f20"><ellipse cx="175" cy="535" rx="40" ry="52"/><ellipse cx="195" cy="780" rx="40" ry="52"/><ellipse cx="860" cy="822" rx="44" ry="56"/><ellipse cx="866" cy="1092" rx="44" ry="56"/></g>
  <g fill="#2a2618" stroke="#b89c3a" stroke-width="7"><ellipse cx="250" cy="688" rx="38" ry="50"/><ellipse cx="812" cy="922" rx="42" ry="54"/></g>
  <path d="M180 400 Q170 350 235 340" fill="none" stroke="#b89c3a" stroke-width="10"/>
  <g fill="#e8e8e6"><rect x="380" y="672" width="34" height="40"/><rect x="712" y="772" width="34" height="44"/><rect x="660" y="935" width="34" height="40"/>
    <rect x="480" y="730" width="14" height="14"/><rect x="480" y="765" width="14" height="14"/><rect x="570" y="770" width="14" height="14"/><rect x="575" y="800" width="14" height="14"/>
    <rect x="610" y="800" width="50" height="10"/><rect x="610" y="822" width="50" height="10"/><rect x="685" y="760" width="10" height="60"/><rect x="740" y="830" width="10" height="30"/>
    <rect x="290" y="735" width="12" height="12"/><rect x="650" y="860" width="12" height="12"/><rect x="680" y="910" width="12" height="12"/></g>
  <g fill="#2b2b2b"><rect x="310" y="735" width="125" height="60" transform="skewY(24) translate(0,-150)"/><rect x="500" y="740" width="50" height="45"/><rect x="690" y="1020" width="30" height="50"/></g>
  <g fill="#f0f0ee" font-weight="normal">
    <text transform="translate(665,760) rotate(205)" font-size="88" textLength="95" lengthAdjust="spacingAndGlyphs">R5</text>
    <text transform="translate(525,560) rotate(207)" font-size="52" textLength="330" lengthAdjust="spacingAndGlyphs">DRP00043 Rev1</text>
    <text transform="translate(515,900) rotate(207)" font-size="62" textLength="140" lengthAdjust="spacingAndGlyphs">CC28</text>
    <text transform="translate(650,1000) rotate(270)" font-size="50" textLength="75" lengthAdjust="spacingAndGlyphs">C42</text>
    <text transform="translate(830,1120) rotate(270)" font-size="50" textLength="70" lengthAdjust="spacingAndGlyphs">C29</text>
    <text transform="translate(300,860) rotate(270)" font-size="46" textLength="100" lengthAdjust="spacingAndGlyphs">R27</text>
  </g>
  <!-- silver strip + body -->
  <path d="M600 590 L960 760 L1040 730 L650 575 Z" fill="#8e8e8c"/>
  <path d="M960 760 L1040 730 L1040 1150 L960 1190 Z" fill="#9d9d9b"/>
  <path d="M1040 730 L1270 650 L1270 1090 L1040 1150 Z" fill="#38383a"/>
  <path d="M1120 900 L1255 775 L1255 1005 L1180 995 Z" fill="#1f1f21"/>
  <!-- bracket -->
  <path d="M590 520 L1000 380 L1230 290 L1290 265 L1440 320 L1440 420 L1330 470 L1230 640 L1260 662 L1040 732 L600 590 Z" fill="#1e1e20"/>
  <path d="M710 560 L1000 470 L1180 560 L900 650 Z" fill="#4d4d4d"/>
  <path d="M850 500 L1290 440 L1330 470 L1240 640 L1170 610 Z" fill="#19191b"/>
  <path d="M950 400 L1100 368 L1165 400 L1062 522 L962 482 Z" fill="#8b9098"/>
  <path d="M1230 290 L1290 265 L1440 320 L1380 350 Z" fill="#3a3a3c"/>
  <!-- lens barrel -->
  <path d="M1250 640 Q1260 430 1520 395 Q1800 400 1940 560 Q2010 760 1960 980 Q1880 1160 1700 1150 Q1400 1150 1290 1060 Q1230 900 1250 640 Z" fill="url(#g08barrel)"/>
  <ellipse cx="1500" cy="800" rx="215" ry="345" fill="none" stroke="#202022" stroke-width="16" transform="rotate(-8 1500 800)"/>
  <ellipse cx="1765" cy="865" rx="212" ry="305" fill="#1a1a1c" transform="rotate(-9 1765 865)"/>
  <ellipse cx="1772" cy="872" rx="192" ry="282" fill="none" stroke="#3d3d40" stroke-width="10" transform="rotate(-9 1772 872)"/>
  <ellipse cx="1775" cy="880" rx="158" ry="245" fill="#0f0f13" transform="rotate(-9 1775 880)"/>
</g></g>
<g transform="translate(640,1155) scale(0.11268)">
  <ellipse cx="1720" cy="770" rx="55" ry="90" fill="#5d2b6e" opacity=".5" filter="url(#b25)"/>
  <ellipse cx="1690" cy="1040" rx="50" ry="60" fill="#1b8288" opacity=".6" filter="url(#b25)"/>
  <ellipse cx="1800" cy="900" rx="50" ry="110" fill="#26262c" opacity=".7" filter="url(#b25)"/>
</g>

<!-- photo 9: AR glass lens with micro-projector -->
<g filter="url(#b06)"><g transform="translate(895,1170) scale(0.10879)">
  <path d="M640 440 Q900 260 1250 170 Q1600 140 1900 165 Q2060 200 2055 330 Q2060 600 1900 850 Q1650 1090 1150 1160 Q900 1130 760 960 Q640 800 640 640 Z" fill="#f7f7f9"/>
  <path d="M2050 250 Q2060 600 1860 880 Q1600 1100 1120 1162" fill="none" stroke="#e6e6ea" stroke-width="10"/>
  <path d="M1010 400 L1860 300 L1830 700 L990 850 Z" fill="#edeaf8"/>
  <path d="M1100 390 L1860 300 L1850 440 L1080 540 Z" fill="#f3f1fb"/>
  <path d="M540 405 Q790 330 1000 210 Q1200 138 1420 140 L1830 150 L1830 162 L1420 166 Q1200 178 1010 262 Q800 385 560 445 Z" fill="url(#g09top)"/>
  <path d="M592 708 Q720 900 890 1082 L868 1102 Q650 975 562 722 Z" fill="url(#g09low)"/>
  <path d="M960 1135 Q1050 1160 1130 1160" fill="none" stroke="#9a9a9c" stroke-width="10"/>
  <path d="M130 265 Q130 262 140 262 L275 266 Q287 268 286 280 L285 352 L130 346 Z" fill="#e9a23b"/>
  <path d="M105 340 L480 338 L482 420 L205 440 L205 592 L110 560 Z" fill="#4b4b4d"/>
  <path d="M105 340 L480 338 L482 372 L110 380 Z" fill="#3a3a3c"/>
  <path d="M205 440 L560 400 L640 460 L640 640 L520 700 L330 722 L205 652 Z" fill="#cfcfd1"/>
  <path d="M205 440 L300 470 L300 690 L205 652 Z" fill="#8f8f91"/>
  <path d="M345 520 L430 480 L530 485 L560 560 L520 650 L400 652 L345 600 Z" fill="#565658"/>
  <path d="M560 400 L640 460 L640 640 L580 668 Z" fill="#ececee"/>
</g></g>

<!-- photo 10: dark AR glasses with cable -->
<g filter="url(#b06)"><g transform="translate(2825,1165) scale(0.10287)">
  <!-- far temple -->
  <path d="M1040 630 L1200 640 Q1500 720 1745 905 Q1760 950 1700 965 Q1450 800 1080 730 Z" fill="url(#g10arm2)"/>
  <!-- temple tip strap -->
  <path d="M1998 423 Q2150 490 2214 580 Q2252 650 2196 796 Q2160 880 2076 922 L2048 896 Q2060 840 2108 780 Q2150 700 2120 650 Q2080 588 1949 570 Z" fill="#19191b"/>
  <path d="M2120 830 Q2150 880 2076 922 L2048 896 Q2056 850 2085 810 Z" fill="#5e5e61"/>
  <!-- cable -->
  <path d="M1890 285 Q2130 375 2228 570" fill="none" stroke="#141416" stroke-width="44" stroke-linecap="round"/>
  <path d="M2196 790 Q2200 900 2300 935 L2449 966" fill="none" stroke="url(#g10tail)" stroke-width="24"/>
  <!-- cable box -->
  <path d="M1634 158 L1665 148 L1880 212 L1900 276 L1880 316 L1634 246 Z" fill="#131315"/>
  <!-- near temple -->
  <path d="M1040 185 L1300 198 L1900 335 L1998 420 L1975 540 Q1950 592 1830 590 L1330 462 L1080 425 Z" fill="url(#g10arm)"/>
  <path d="M1290 200 L1350 212 L1370 470 L1320 460 Z" fill="#1e1e20" opacity=".8"/>
  <!-- far lens -->
  <path d="M135 460 Q180 390 420 330 L450 700 L385 862 L225 902 Q160 800 135 460 Z" fill="url(#g10lensL)"/>
  <path d="M300 400 L440 360 L460 700 L400 830 L330 700 Z" fill="#0d0d10"/>
  <!-- near lens + frame -->
  <path d="M425 340 Q470 205 960 172 L1100 178 L1100 425 L1070 650 Q1010 800 620 845 Q530 815 490 660 Z" fill="#4a4d54"/>
  <path d="M470 350 Q500 250 960 215 Q1030 225 1025 300 L1000 600 Q960 750 640 790 Q570 760 545 640 Z" fill="url(#g10lensR)"/>
  <path d="M560 820 Q800 800 1050 690 L1060 740 Q820 840 600 848 Z" fill="#6d7077"/>
  <path d="M700 540 L930 470 L900 640 L720 700 Z" fill="#2b2d33" opacity=".9"/>
  <path d="M860 240 Q1020 230 1020 300 L1005 470 Q930 380 860 240 Z" fill="#8e9198" opacity=".7"/>
</g></g>

<!-- photo 11: slim black VR glasses -->
<g filter="url(#b06)"><g transform="translate(3120,1165) scale(0.10101)">
  <!-- right temple -->
  <path d="M1540 315 L1700 420 Q2000 690 2045 900 Q2040 1110 1845 1185 Q1800 1160 1830 1120 Q1960 1040 1935 900 Q1870 700 1530 545 Z" fill="#1b1b1e"/>
  <!-- light shield -->
  <path d="M760 560 Q860 800 1240 830 Q1470 790 1530 550 Z" fill="#151517"/>
  <path d="M800 600 Q1000 720 1430 640" fill="none" stroke="#2a2a2d" stroke-width="22" opacity=".8"/>
  <!-- left temple -->
  <path d="M600 560 L700 560 Q1000 860 1600 1085 Q1630 1130 1585 1152 Q1000 1010 600 700 Z" fill="#121214"/>
  <path d="M700 620 Q1000 880 1560 1100" fill="none" stroke="#2d2d30" stroke-width="16" opacity=".8"/>
  <path d="M420 680 L570 630 L580 720 L450 745 Q420 720 420 680 Z" fill="#18181a"/>
  <!-- visor -->
  <path d="M188 580 L232 330 Q270 220 330 190 Q500 140 900 140 Q1300 158 1560 318 L1545 545 Q1400 530 1200 580 Q900 620 700 560 L690 385 Q630 330 565 440 Q520 540 330 620 Z" fill="url(#g11visor)"/>
  <path d="M560 440 Q620 335 690 380 L700 600 L640 690 L560 640 Z" fill="#161618"/>
  <path d="M188 580 L560 440 L575 640 L430 705 L330 650 Z" fill="#0e0e10"/>
</g></g>

<!-- photo 12: white/black VR headset with blue lights -->
<g filter="url(#b06)"><g transform="translate(3390,1135) scale(0.12821)">
  <!-- rear pad -->
  <path d="M560 230 Q700 80 950 74 Q1200 118 1265 335 L1200 300 Q1000 180 600 225 Z" fill="#2b2b2f"/>
  <!-- rear cushion -->
  <path d="M1150 560 L1300 640 L1325 745 L1440 805 L1445 1005 L1210 988 L1175 700 Z" fill="#252528"/>
  <!-- black inner band -->
  <path d="M860 432 Q1200 410 1410 555 Q1540 760 1490 1055 L1440 1045 Q1480 800 1385 610 Q1190 462 860 466 Z" fill="#18181a"/>
  <!-- white band -->
  <path d="M440 462 Q470 285 600 212 Q900 168 1240 308 L1500 478 Q1655 700 1645 900 L1560 932 Q1500 650 1360 510 Q1100 395 840 438 L500 470 Z" fill="url(#g12band)"/>
  <path d="M1520 682 L1650 652 L1662 900 L1542 932 Z" fill="#e2e2e5"/>
  <path d="M1440 980 L1500 960 L1492 1062 L1450 1052 Z" fill="#222225"/>
  <rect x="430" y="438" width="72" height="28" rx="8" fill="#9c9ca0"/>
  <!-- visor -->
  <path d="M108 585 Q125 492 250 470 L1040 468 Q1135 500 1165 585 Z" fill="url(#g12top)"/>
  <path d="M150 1035 L1085 1035 Q1050 1112 960 1132 L250 1122 Q170 1100 150 1035 Z" fill="#b9b9bd"/>
  <path d="M1100 520 Q1235 700 1205 900 Q1150 1045 1040 1100" fill="none" stroke="#a2a4a9" stroke-width="34"/>
  <path d="M1165 640 Q1215 780 1185 920" fill="none" stroke="#2f8ff5" stroke-width="18" stroke-dasharray="38 22"/>
  <path d="M108 572 L1100 560 Q1182 640 1192 800 Q1182 980 1082 1042 L150 1042 Q98 800 108 572 Z" fill="url(#g12front)"/>
  <!-- blue lights -->
  <g fill="#1c8cfb">
    <path d="M770 470 L1030 468 Q1045 540 1000 546 L792 542 Q758 512 770 470 Z"/>
    <path d="M782 1062 L1040 1050 Q1040 1128 1010 1134 L802 1142 Q772 1110 782 1062 Z"/>
    <path d="M150 1040 L205 1040 L255 1112 L180 1092 Z"/>
    <rect x="330" y="768" width="192" height="74" rx="37"/>
  </g>
  <path d="M138 505 L212 480 L172 562 Z" fill="#7cc0f8"/>
</g></g>

</svg>
</body>
</html>
